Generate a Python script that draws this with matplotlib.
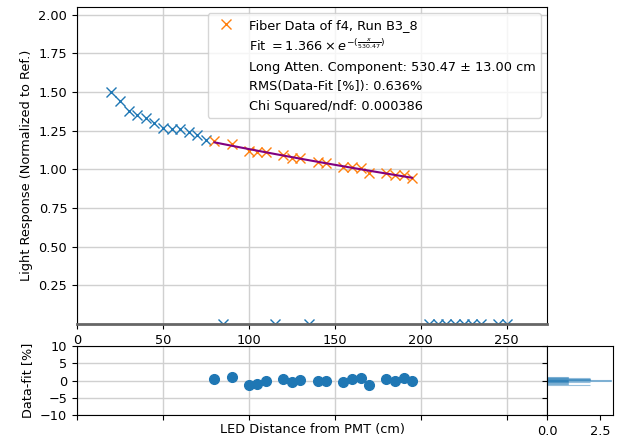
import numpy as np
import matplotlib
matplotlib.use("Agg")
import matplotlib.pyplot as plt

# ---- data ----
unfit_x = [20, 25, 30, 35, 40, 45, 50, 55, 60, 65, 70, 75]
unfit_y = [1.50, 1.44, 1.38, 1.35, 1.33, 1.30, 1.27, 1.26, 1.26, 1.24, 1.22, 1.19]

zero_x = [85, 115, 135, 205, 210, 215, 220, 225, 230, 235, 245, 250]
zero_y = [0, 0, 0, 0, 0, 0, 0, 0, 0, 0, 0, 0]

fit_x = [80, 90, 100, 105, 110, 120, 125, 130, 140, 145, 155, 160, 165, 170, 180, 185, 190, 195]
fit_y = [1.181, 1.163, 1.118, 1.111, 1.111, 1.096, 1.075, 1.071, 1.049, 1.040,
         1.016, 1.014, 1.009, 0.979, 0.977, 0.963, 0.963, 0.947]
resid = [0.5, 0.9, -1.2, -0.9, 0.0, 0.5, -0.5, 0.1, -0.1, 0.0,
         -0.5, 0.3, 0.7, -1.3, 0.3, -0.2, 0.7, 0.0]

fit_amp = 1.366
fit_len = 530.47

labels = ["Fiber Data of f4, Run B3_8",
          r"Fit $=1.366\times e^{-(\frac{x}{530.47})}$",
          "Long Atten. Component: 530.47 \u00b1 13.00 cm",
          "RMS(Data-Fit [%]): 0.636%",
          "Chi Squared/ndf: 0.000386"]

plt.rcParams["font.size"] = 9.25

W, H = 623, 437
fig = plt.figure(figsize=(W / 100, H / 100), dpi=100)

def frac(l, t, r, b):
    return [l / W, 1 - b / H, (r - l) / W, (b - t) / H]

ax = fig.add_axes(frac(77, 7, 547, 324))
axr = fig.add_axes(frac(77, 346, 547, 415))
axh = fig.add_axes(frac(547, 346, 613, 415))

# main
ax.grid(True, color="#d0d0d0", lw=1, zorder=0)
ax.set_axisbelow(True)
ax.plot(unfit_x, unfit_y, "x", color="C0", ls="none", ms=6.5)
ax.plot(zero_x, zero_y, "x", color="C0", ls="none", ms=6.5)
ax.plot(fit_x, fit_y, "x", color="C1", ls="none", ms=6.5, label=labels[0])
xx = np.linspace(fit_x[0], fit_x[-1], 50)
ax.plot(xx, fit_amp * np.exp(-xx / fit_len), color="purple", lw=1.5)
for lab in labels[1:]:
    ax.plot([], [], " ", label=lab)
ax.set_xlim(0, 273.5)
ax.set_ylim(0, 2.05)
ax.set_yticks([0.25, 0.5, 0.75, 1.0, 1.25, 1.5, 1.75, 2.0])
ax.set_xticks([0, 50, 100, 150, 200, 250])
ax.set_ylabel("Light Response (Normalized to Ref.)")
ax.spines["bottom"].set_color("#666666")
ax.spines["bottom"].set_linewidth(2)
leg = ax.legend(loc="upper right", fontsize=9.25)

# residuals
axr.grid(True, color="#d0d0d0", lw=1, zorder=0)
axr.set_axisbelow(True)
axr.plot(fit_x, resid, "o", color="C0", ms=7)
axr.set_xlim(0, 273.5)
axr.set_ylim(-10, 10)
axr.set_yticks([-10, -5, 0, 5, 10])
axr.set_xticks([0, 50, 100, 150, 200, 250])
axr.tick_params(axis="x", labelbottom=False)
axr.set_ylabel("Data-fit [%]")
axr.set_xlabel("LED Distance from PMT (cm)", labelpad=2)

# histogram
axh.hist(resid, bins=20, orientation="horizontal", color="C0", alpha=0.45,
         edgecolor="C0", linewidth=0.8)
axh.set_ylim(-10, 10)
axh.set_xlim(0, 3.1)
axh.set_xticks([0.0, 2.5])
axh.set_yticks([-10, -5, 0, 5, 10])
axh.tick_params(axis="y", labelleft=False)

fig.savefig("out.png", dpi=100)
